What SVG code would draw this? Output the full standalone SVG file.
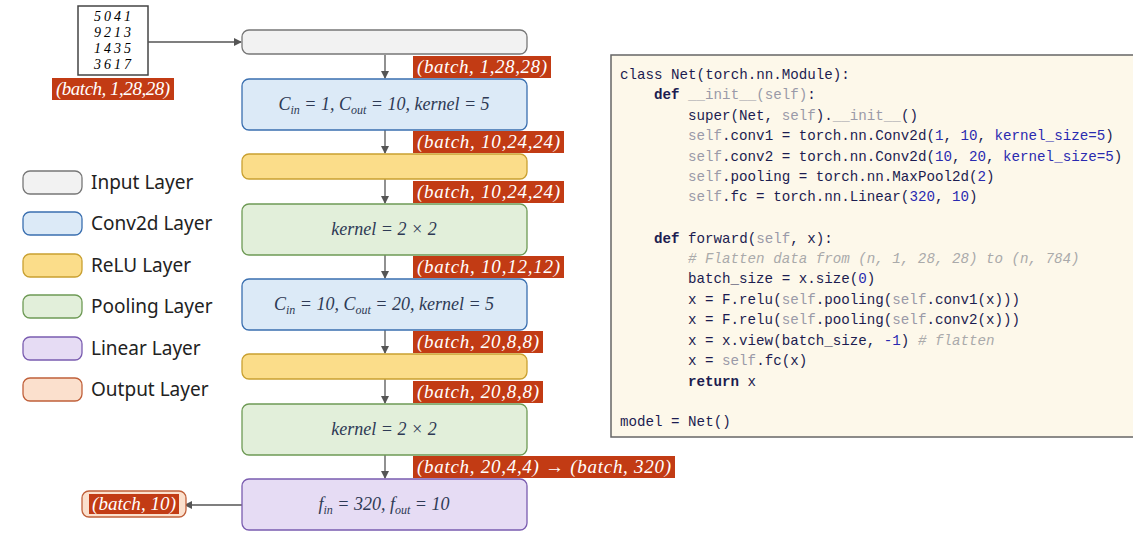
<svg xmlns="http://www.w3.org/2000/svg" width="1133" height="534" viewBox="0 0 1133 534">
<defs>
<marker id="ah" markerWidth="8" markerHeight="8" refX="7" refY="4" orient="auto" markerUnits="userSpaceOnUse"><path d="M0,0 L8,4 L0,8 z" fill="#555"/></marker>
<style>
.n{stroke-width:1.3;rx:7}
.in{fill:#f2f2f2;stroke:#777}
.cv{fill:#dceaf7;stroke:#3a6fb0}
.re{fill:#fbdd8a;stroke:#c9a030}
.po{fill:#e2efda;stroke:#6e9a55}
.li{fill:#e6dcf4;stroke:#7a5cb0}
.ou{fill:#fbe0cd;stroke:#c0603a}
.m{font-family:"Liberation Serif",serif;font-style:italic;font-size:18px;fill:#2e3a55;text-anchor:middle}
.tag{fill:#c23b14}
.tt{font-family:"Liberation Serif",serif;font-style:italic;font-size:19px;fill:#fff}
.lg{font-family:"Noto Sans",sans-serif;font-size:19px;fill:#222}
.c{font-family:"Liberation Mono",monospace;font-size:14.2px;fill:#1c1c50;white-space:pre}
.s{fill:#9a9aa8}.k{fill:#2a2ab0}.b{font-weight:bold}.cm{fill:#aaa;font-style:italic}
.e{stroke:#555;stroke-width:1.3;fill:none;marker-end:url(#ah)}
.d{font-family:"Liberation Serif",serif;font-style:italic;font-size:14px;text-anchor:middle;letter-spacing:3px}
</style>
</defs>
<rect width="1133" height="534" fill="#fff"/>
<g id="digits"><rect x="78" y="6" width="70" height="69" fill="#fff" stroke="#444" stroke-width="1.5"/>
<text class="d" x="114" y="21">5041</text>
<text class="d" x="114" y="37">9213</text>
<text class="d" x="114" y="53">1435</text>
<text class="d" x="114" y="69">3617</text>
<rect class="tag" x="52" y="78" width="122" height="22"/><text class="tt" x="56" y="95" textLength="114">(batch, 1,28,28)</text></g>
<g id="edges">
<path class="e" d="M148,42 H241"/>
<path class="e" d="M385,55 V78"/><path class="e" d="M385,130 V153"/><path class="e" d="M385,179 V203"/>
<path class="e" d="M385,255 V278"/><path class="e" d="M385,330 V353"/><path class="e" d="M385,379 V403"/>
<path class="e" d="M385,455 V478"/><path class="e" d="M242,505 H185"/>
</g>
<g id="input"><rect class="n in" x="242" y="30" width="285" height="24"/></g>
<g id="conv1"><rect class="n cv" x="242" y="79" width="285" height="51"/><text class="m" x="384" y="110">C<tspan font-size="12" dy="4">in</tspan><tspan dy="-4"> = 1, C</tspan><tspan font-size="12" dy="4">out</tspan><tspan dy="-4"> = 10, kernel = 5</tspan></text></g>
<g id="relu1"><rect class="n re" x="242" y="154" width="285" height="25"/></g>
<g id="pool1"><rect class="n po" x="242" y="204" width="285" height="51"/><text class="m" x="384" y="235">kernel = 2 × 2</text></g>
<g id="conv2"><rect class="n cv" x="242" y="279" width="285" height="51"/><text class="m" x="384" y="310">C<tspan font-size="12" dy="4">in</tspan><tspan dy="-4"> = 10, C</tspan><tspan font-size="12" dy="4">out</tspan><tspan dy="-4"> = 20, kernel = 5</tspan></text></g>
<g id="relu2"><rect class="n re" x="242" y="354" width="285" height="25"/></g>
<g id="pool2"><rect class="n po" x="242" y="404" width="285" height="51"/><text class="m" x="384" y="435">kernel = 2 × 2</text></g>
<g id="linear"><rect class="n li" x="242" y="479" width="285" height="51"/><text class="m" x="384" y="510">f<tspan font-size="12" dy="4">in</tspan><tspan dy="-4"> = 320, f</tspan><tspan font-size="12" dy="4">out</tspan><tspan dy="-4"> = 10</tspan></text></g>
<g id="output"><rect class="n ou" x="82" y="491" width="104" height="26"/><rect class="tag" x="89" y="494" width="90" height="20"/><text class="tt" x="92" y="510" textLength="84">(batch, 10)</text></g>
<g id="tags">
<rect class="tag" x="413" y="56" width="138" height="22"/><text class="tt" x="417" y="73" textLength="130">(batch, 1,28,28)</text>
<rect class="tag" x="413" y="131" width="151" height="22"/><text class="tt" x="417" y="148" textLength="143">(batch, 10,24,24)</text>
<rect class="tag" x="413" y="181" width="151" height="22"/><text class="tt" x="417" y="198" textLength="143">(batch, 10,24,24)</text>
<rect class="tag" x="413" y="256" width="151" height="22"/><text class="tt" x="417" y="273" textLength="143">(batch, 10,12,12)</text>
<rect class="tag" x="413" y="331" width="130" height="22"/><text class="tt" x="417" y="348" textLength="122">(batch, 20,8,8)</text>
<rect class="tag" x="413" y="381" width="130" height="22"/><text class="tt" x="417" y="398" textLength="122">(batch, 20,8,8)</text>
<rect class="tag" x="413" y="456" width="262" height="22"/><text class="tt" x="417" y="473" textLength="254">(batch, 20,4,4) → (batch, 320)</text>
</g>
<g id="legend">
<rect class="n in" x="23" y="171" width="59" height="23"/><text class="lg" x="91" y="189">Input Layer</text>
<rect class="n cv" x="23" y="212" width="59" height="23"/><text class="lg" x="91" y="230">Conv2d Layer</text>
<rect class="n re" x="23" y="254" width="59" height="23"/><text class="lg" x="91" y="272">ReLU Layer</text>
<rect class="n po" x="23" y="295" width="59" height="23"/><text class="lg" x="91" y="313">Pooling Layer</text>
<rect class="n li" x="23" y="337" width="59" height="23"/><text class="lg" x="91" y="355">Linear Layer</text>
<rect class="n ou" x="23" y="378" width="59" height="23"/><text class="lg" x="91" y="396">Output Layer</text>
</g>
<g id="code">
<rect x="611" y="55" width="530" height="382" fill="#fdf8ea" stroke="#666" stroke-width="1.5"/>
<text class="c" x="620" y="79">class Net(torch.nn.Module):</text>
<text class="c" x="654" y="99"><tspan class="b">def</tspan> <tspan class="s">__init__(self)</tspan>:</text>
<text class="c" x="688" y="120">super(Net, <tspan class="s">self</tspan>).<tspan class="s">__init__</tspan>()</text>
<text class="c" x="688" y="140"><tspan class="s">self</tspan>.conv1 = torch.nn.Conv2d(<tspan class="k">1</tspan>, <tspan class="k">10</tspan>, <tspan class="k">kernel_size=5</tspan>)</text>
<text class="c" x="688" y="161"><tspan class="s">self</tspan>.conv2 = torch.nn.Conv2d(<tspan class="k">10</tspan>, <tspan class="k">20</tspan>, <tspan class="k">kernel_size=5</tspan>)</text>
<text class="c" x="688" y="181"><tspan class="s">self</tspan>.pooling = torch.nn.MaxPool2d(<tspan class="k">2</tspan>)</text>
<text class="c" x="688" y="201"><tspan class="s">self</tspan>.fc = torch.nn.Linear(<tspan class="k">320</tspan>, <tspan class="k">10</tspan>)</text>
<text class="c" x="654" y="243"><tspan class="b">def</tspan> forward(<tspan class="s">self</tspan>, x):</text>
<text class="c cm" x="688" y="263"># Flatten data from (n, 1, 28, 28) to (n, 784)</text>
<text class="c" x="688" y="283">batch_size = x.size(<tspan class="k">0</tspan>)</text>
<text class="c" x="688" y="304">x = F.relu(<tspan class="s">self</tspan>.pooling(<tspan class="s">self</tspan>.conv1(x)))</text>
<text class="c" x="688" y="324">x = F.relu(<tspan class="s">self</tspan>.pooling(<tspan class="s">self</tspan>.conv2(x)))</text>
<text class="c" x="688" y="345">x = x.view(batch_size, <tspan class="k">-1</tspan>) <tspan class="cm"># flatten</tspan></text>
<text class="c" x="688" y="365">x = <tspan class="s">self</tspan>.fc(x)</text>
<text class="c" x="688" y="386"><tspan class="b">return</tspan> x</text>
<text class="c" x="620" y="426">model = Net()</text>
</g>
</svg>
